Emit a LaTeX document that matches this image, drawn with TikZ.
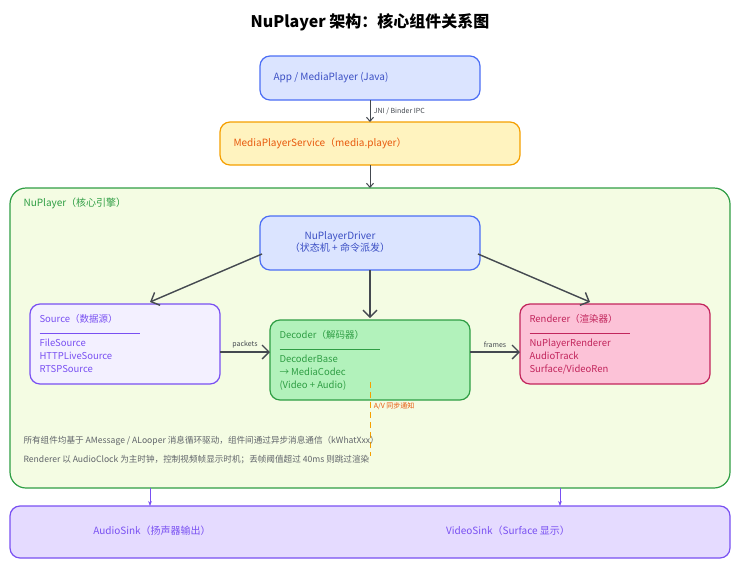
\documentclass[tikz,border=0pt]{standalone}
\usepackage{fontspec}
\setmainfont{Noto Sans CJK SC}
\usetikzlibrary{arrows.meta,positioning}
\definecolor{blueF}{HTML}{DBE4FF}\definecolor{blueD}{HTML}{4C6EF5}\definecolor{blueT}{HTML}{3B4FC4}
\definecolor{yelF}{HTML}{FFF3BF}\definecolor{yelD}{HTML}{F59F00}\definecolor{yelT}{HTML}{E8590C}
\definecolor{grnF}{HTML}{F4FCE3}\definecolor{grnD}{HTML}{2F9E44}\definecolor{grnB}{HTML}{B2F2BB}
\definecolor{vioF}{HTML}{F3F0FF}\definecolor{vioD}{HTML}{7950F2}\definecolor{vioS}{HTML}{E5DBFF}
\definecolor{pnkF}{HTML}{FCC2D7}\definecolor{pnkD}{HTML}{C2255C}
\definecolor{arr}{HTML}{444950}
\begin{document}
\begin{tikzpicture}[x=1pt,y=-1pt,
  box/.style={draw,rounded corners=10pt,line width=1.2pt,minimum height=#1},
  lbl/.style={font=\fontsize{10}{12}\selectfont},
  con/.style={-{Straight Barb[length=7pt,width=14pt]},line width=1.4pt,draw=arr},
  small/.style={font=\fontsize{7}{8}\selectfont,text=arr},
  note/.style={font=\fontsize{8.6}{10}\selectfont,text=arr!85}]
\useasboundingbox (0,0) rectangle (740,568);
\node[font=\fontsize{16}{18}\selectfont\bfseries] (title) at (370,22) {NuPlayer 架构：核心组件关系图};
% outer containers
\draw[grnD,fill=grnF,line width=1.2pt,rounded corners=16pt] (10,188) rectangle (730,488);
\node (nuplayer) at (10,188) {};
\node[lbl,text=grnD,anchor=west] at (20,203) {NuPlayer（核心引擎）};
\draw[vioD,fill=vioS,line width=1.2pt,rounded corners=10pt] (10,506) rectangle (730,558);
\node[lbl,text=vioD] (asink) at (152,531) {AudioSink（扬声器输出）};
\node[lbl,text=vioD] (vsink) at (508,531) {VideoSink（Surface 显示）};
% boxes
\draw[box=0,draw=blueD,fill=blueF] (260,56) rectangle (480,100);
\node[lbl,text=blueT,anchor=west] (app) at (270,78) {App / MediaPlayer (Java)};
\draw[box=0,draw=yelD,fill=yelF] (220,122) rectangle (520,165);
\node[lbl,text=yelT,anchor=west] (mps) at (230,143) {MediaPlayerService（media.player）};
\draw[box=0,draw=blueD,fill=blueF] (260,216) rectangle (480,270);
\node[lbl,text=blueT,align=center] (drv) at (340,242) {NuPlayerDriver\\（状态机 + 命令派发）};
\draw[box=0,draw=vioD,fill=vioF] (30,304) rectangle (220,384);
\node[lbl,font=\fontsize{9.5}{13}\selectfont,text=vioD,anchor=north west,align=left] (src) at (36,311)
  {Source（数据源）\\[-2pt]\rule{100pt}{0.4pt}\\FileSource\\HTTPLiveSource\\RTSPSource};
\draw[box=0,draw=grnD,fill=grnB] (270,320) rectangle (470,400);
\node[lbl,font=\fontsize{9.5}{13}\selectfont,text=grnD,anchor=north west,align=left] (dec) at (276,327)
  {Decoder（解码器）\\[-2pt]\rule{100pt}{0.4pt}\\DecoderBase\\→ MediaCodec\\(Video + Audio)};
\draw[box=0,draw=pnkD,fill=pnkF] (520,304) rectangle (710,384);
\node[lbl,font=\fontsize{9.5}{13}\selectfont,text=pnkD,anchor=north west,align=left] (rnd) at (526,311)
  {Renderer（渲染器）\\[-2pt]\rule{100pt}{0.4pt}\\NuPlayerRenderer\\AudioTrack\\Surface/VideoRen};
% anchors for connectors
\coordinate (appB) at (370,100); \coordinate (mpsT) at (370,122);
\coordinate (mpsB) at (370,165); \coordinate (nupT) at (370,188);
\coordinate (drvL) at (262,254); \coordinate (drvM) at (370,270); \coordinate (drvR) at (478,254);
\coordinate (srcT) at (150,302); \coordinate (decT) at (370,318); \coordinate (rndT) at (590,302);
\coordinate (srcR) at (220,352); \coordinate (decL) at (270,352);
\coordinate (decR) at (470,352); \coordinate (rndL) at (520,352);
\coordinate (sync0) at (370,382); \coordinate (sync1) at (370,456);
\draw[con,line width=1pt,-{Straight Barb[length=4pt,width=7pt]}] (appB) -- node[small,right]{JNI / Binder IPC} (mpsT);
\draw[con,line width=1pt,-{Straight Barb[length=4pt,width=7pt]}] (mpsB) -- (nupT);
\draw[con] (drvL) -- (srcT);
\draw[con] (drvM) -- (decT);
\draw[con] (drvR) -- (rndT);
\draw[con] (srcR) -- node[small,above]{packets} (decL);
\draw[con] (decR) -- node[small,above]{frames} (rndL);
\draw[yelD,dashed,line width=1pt,dash pattern=on 6pt off 4pt] (sync0) -- node[pos=0.32,right,font=\fontsize{7}{8}\selectfont,text=yelT]{A/V 同步通知} (sync1);
\node[note,anchor=west] (note1) at (20,441) {所有组件均基于 AMessage / ALooper 消息循环驱动，组件间通过异步消息通信（kWhatXxx）};
\node[note,anchor=west] (note2) at (20,460) {Renderer 以 AudioClock 为主时钟，控制视频帧显示时机；丢帧阈值超过 40ms 则跳过渲染};
\coordinate (c1) at (150,488); \coordinate (c2) at (560,488);
\coordinate (s1) at (150,506); \coordinate (s2) at (560,506);
\draw[-{Stealth[length=5pt]},draw=vioD,line width=1pt] (c1) -- (s1);
\draw[-{Stealth[length=5pt]},draw=vioD,line width=1pt] (c2) -- (s2);
\end{tikzpicture}
\end{document}
